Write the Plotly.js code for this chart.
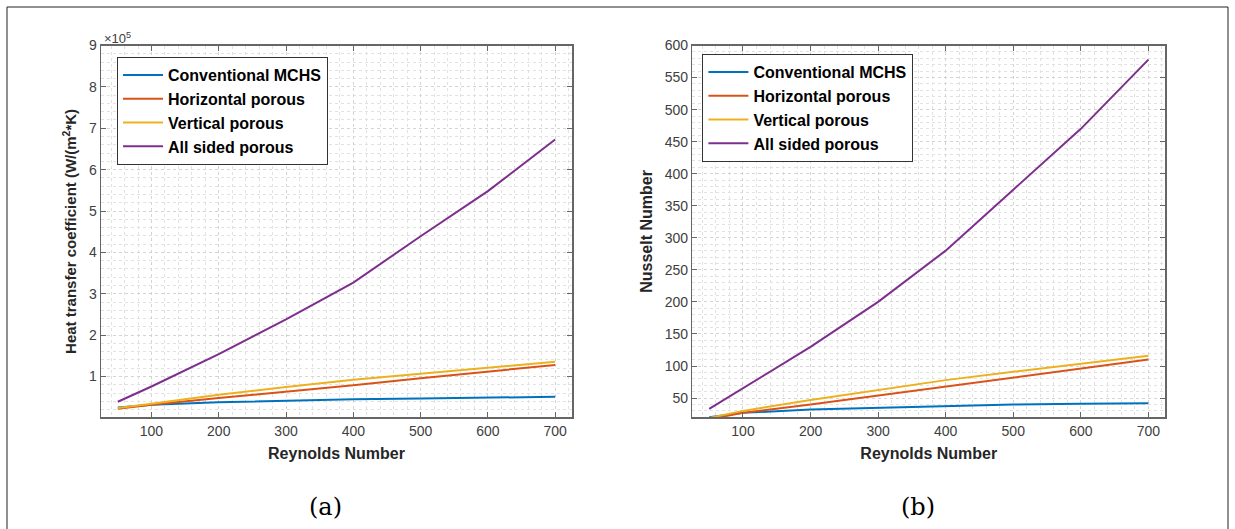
<!DOCTYPE html>
<html>
<head>
<meta charset="utf-8">
<script src="https://cdn.plot.ly/plotly-3.0.1.min.js"></script>
<style>
html,body{margin:0;padding:0;background:#fff;}
#chart{width:1235px;height:529px;}
</style>
</head>
<body>
<div id="chart"></div>
<script>
// Reynolds numbers
const reynolds = [50, 100, 200, 300, 400, 500, 600, 700];
const seriesNames = ["Conventional MCHS", "Horizontal porous", "Vertical porous", "All sided porous"];
const seriesColors = ["#0072BD", "#D95319", "#EDB120", "#7E2F8E"];

// (a) Heat transfer coefficient, W/(m^2*K)
const htcConventional = [25000, 32000, 38000, 42000, 45000, 47000, 49000, 51000];
const htcHorizontal   = [22000, 32000, 48000, 63000, 79000, 96000, 112000, 128000];
const htcVertical     = [24000, 34000, 56000, 75000, 92000, 107000, 122000, 136000];
const htcAllSided     = [39000, 76000, 154000, 238000, 327000, 439000, 548000, 673000];

// (b) Nusselt number
const nuConventional = [20, 27, 32, 35, 38, 40, 41, 42];
const nuHorizontal   = [17, 27, 40, 54, 67, 81, 95, 110];
const nuVertical     = [19, 30, 47, 63, 78, 91, 104, 116];
const nuAllSided     = [33, 65, 130, 200, 280, 375, 470, 578];

// tick labels
const xTickVals = [100, 200, 300, 400, 500, 600, 700];
const htcTickVals = [100000, 200000, 300000, 400000, 500000, 600000, 700000, 800000, 900000];
const htcTickText = ["1", "2", "3", "4", "5", "6", "7", "8", "9"];
const nuTickVals = [50, 100, 150, 200, 250, 300, 350, 400, 450, 500, 550, 600];

const htcSeries = [htcConventional, htcHorizontal, htcVertical, htcAllSided];
const nuSeries = [nuConventional, nuHorizontal, nuVertical, nuAllSided];

const traces = [];
htcSeries.forEach((ys, i) => {
  traces.push({x: reynolds, y: ys, type: "scatter", mode: "lines", name: seriesNames[i],
    line: {color: seriesColors[i], width: 2}, xaxis: "x", yaxis: "y", legend: "legend"});
});
nuSeries.forEach((ys, i) => {
  traces.push({x: reynolds, y: ys, type: "scatter", mode: "lines", name: seriesNames[i],
    line: {color: seriesColors[i], width: 2}, xaxis: "x2", yaxis: "y2", legend: "legend2"});
});

const W = 1235, H = 529;
const yDom = [1 - 417.3 / H, 1 - 45.5 / H];
const tickFont = {family: "Liberation Sans, Arial, sans-serif", size: 14, color: "#404040"};
const titleFont = {family: "Liberation Sans, Arial, sans-serif", size: 16, color: "#262626", weight: "bold"};
const axisCommon = {
  showline: true, linecolor: "#666666", linewidth: 1.5, mirror: "ticks",
  ticks: "inside", ticklen: 5, tickcolor: "#666666", tickwidth: 1,
  showgrid: true, gridcolor: "#d4d4d4", griddash: "dot", gridwidth: 1,
  zeroline: false, tickfont: tickFont, fixedrange: true
};
function xAxis(domain) {
  return Object.assign({}, axisCommon, {
    domain: domain, range: [25, 725], tickmode: "array", tickvals: xTickVals,
    minor: {dtick: 20, tick0: 0, showgrid: true, gridcolor: "#e2e2e2", griddash: "dot", ticks: ""},
    title: {text: "Reynolds Number", font: titleFont, standoff: 10}
  });
}
const legendCommon = {
  bgcolor: "#ffffff", bordercolor: "#333333", borderwidth: 1,
  font: {family: "Liberation Sans, Arial, sans-serif", size: 16, color: "#000000", weight: "bold"},
  xanchor: "left", yanchor: "top", tracegroupgap: 0, itemwidth: 40
};

const layout = {
  width: W, height: H,
  margin: {l: 0, r: 0, t: 0, b: 0},
  paper_bgcolor: "#ffffff", plot_bgcolor: "#ffffff",
  showlegend: true,
  xaxis: xAxis([101 / W, 572 / W]),
  xaxis2: Object.assign(xAxis([692.3 / W, 1165.3 / W]), {anchor: "y2"}),
  yaxis: Object.assign({}, axisCommon, {
    domain: yDom, range: [1500, 900000], tickmode: "array", tickvals: htcTickVals, ticktext: htcTickText,
    minor: {dtick: 20000, tick0: 0, showgrid: true, gridcolor: "#e2e2e2", griddash: "dot", ticks: ""},
    title: {text: "Heat transfer coefficient (W/(m<sup>2</sup>*K)",
            font: Object.assign({}, titleFont, {size: 15}), standoff: 8}
  }),
  yaxis2: Object.assign({}, axisCommon, {
    domain: yDom, anchor: "x2", range: [20, 600], tickmode: "array", tickvals: nuTickVals,
    minor: {dtick: 10, tick0: 0, showgrid: true, gridcolor: "#e2e2e2", griddash: "dot", ticks: ""},
    title: {text: "Nusselt Number", font: titleFont, standoff: 8}
  }),
  legend: Object.assign({}, legendCommon, {x: 117 / W, y: 1 - 57 / H}),
  legend2: Object.assign({}, legendCommon, {x: 702.4 / W, y: 1 - 54 / H}),
  annotations: [
    {xref: "paper", yref: "paper", x: 102 / W, y: 1 - 38 / H, xanchor: "left", yanchor: "middle",
     text: "×10<sup>5</sup>", showarrow: false,
     font: {family: "Liberation Sans, Arial, sans-serif", size: 13, color: "#404040"}},
    {xref: "paper", yref: "paper", x: 325 / W, y: 1 - 507 / H, xanchor: "center", yanchor: "middle",
     text: "(a)", showarrow: false, font: {family: "DejaVu Serif, serif", size: 24, color: "#000000"}},
    {xref: "paper", yref: "paper", x: 918 / W, y: 1 - 507 / H, xanchor: "center", yanchor: "middle",
     text: "(b)", showarrow: false, font: {family: "DejaVu Serif, serif", size: 24, color: "#000000"}}
  ],
  shapes: [
    {type: "rect", xref: "paper", yref: "paper", x0: 7 / W, x1: 1228 / W, y0: -0.1, y1: 1 - 7 / H,
     line: {color: "#222222", width: 1}, fillcolor: "rgba(0,0,0,0)", layer: "below"}
  ]
};

Plotly.newPlot("chart", traces, layout, {displayModeBar: false, staticPlot: true});
</script>
</body>
</html>
